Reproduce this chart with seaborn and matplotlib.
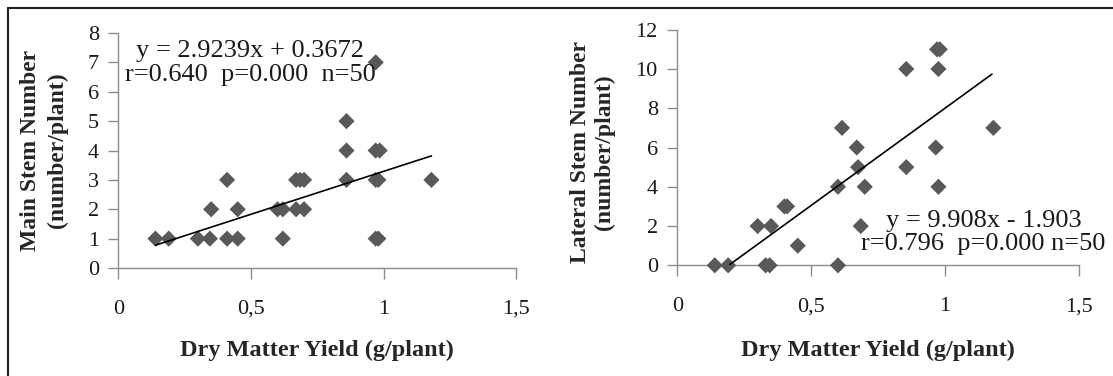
import matplotlib
matplotlib.use("Agg")
import matplotlib.pyplot as plt
from matplotlib.lines import Line2D
import seaborn as sns
import numpy as np
import pandas as pd

# ---------- data ----------
# dry matter yield (g/plant) vs main stem number
main_x = [0.14, 0.19, 0.30, 0.345, 0.41, 0.45, 0.62, 0.97, 0.98,
          0.35, 0.45, 0.60, 0.62, 0.67, 0.70,
          0.41, 0.67, 0.685, 0.70, 0.86, 0.97, 0.98, 1.18,
          0.86, 0.97, 0.985, 0.86, 0.97]
main_y = [1, 1, 1, 1, 1, 1, 1, 1, 1,
          2, 2, 2, 2, 2, 2,
          3, 3, 3, 3, 3, 3, 3, 3,
          4, 4, 4, 5, 7]

# dry matter yield (g/plant) vs lateral stem number
lat_x = [0.14, 0.19, 0.33, 0.345, 0.60,
         0.45,
         0.30, 0.35, 0.685,
         0.40, 0.41,
         0.60, 0.70, 0.975,
         0.675, 0.855,
         0.67, 0.965,
         0.615, 1.18,
         0.855, 0.975,
         0.97, 0.98]
lat_y = [0, 0, 0, 0, 0,
         1,
         2, 2, 2,
         3, 3,
         4, 4, 4,
         5, 5,
         6, 6,
         7, 7,
         10, 10,
         11, 11]

# fitted trend lines: slope, intercept, x range
main_fit = (2.9239, 0.3672)
main_fit_range = [0.14, 1.18]
lat_fit = (9.908, -1.903)
lat_fit_range = [0.196, 1.175]

main_eq = "y = 2.9239x + 0.3672\nr=0.640  p=0.000  n=50"
lat_eq = "y = 9.908x - 1.903\nr=0.796  p=0.000 n=50"

x_ticks = [0, 0.5, 1, 1.5]
x_tick_labels = ["0", "0,5", "1", "1,5"]
main_y_ticks = list(range(0, 9))
lat_y_ticks = list(range(0, 13, 2))

# ---------- style ----------
sns.set_style("ticks")
plt.rcParams["font.family"] = ["Liberation Serif", "DejaVu Serif"]

point_color = "#595959"
spine_color = "#8c8c8c"

fig = plt.figure(figsize=(11.13, 3.76), dpi=100)
ax1 = fig.add_axes([0.1063, 0.2872, 0.3576, 0.6250])
ax2 = fig.add_axes([0.6085, 0.2944, 0.3610, 0.6266])


def draw_panel(ax, xs, ys, fit, fit_range, ylim, yticks, ylabel, eq, eq_pos,
               ylab_x, ylab_y, ylab_spacing, xlab_y):
    df = pd.DataFrame({"x": xs, "y": ys})
    sns.scatterplot(data=df, x="x", y="y", marker="D", s=68, color=point_color,
                    edgecolor="none", linewidth=0, clip_on=False, zorder=3, ax=ax)
    fx = np.array(fit_range)
    fit_df = pd.DataFrame({"x": fx, "y": fit[0] * fx + fit[1]})
    sns.lineplot(data=fit_df, x="x", y="y", color="black", linewidth=1.2,
                 zorder=4, ax=ax)

    ax.set_xlim(0, 1.5)
    ax.set_ylim(*ylim)
    ax.set_xticks(x_ticks)
    ax.set_xticklabels(x_tick_labels)
    ax.set_yticks(yticks)
    sns.despine(ax=ax)
    for side in ["left", "bottom"]:
        ax.spines[side].set_color(spine_color)
        ax.spines[side].set_linewidth(1.0)
    ax.tick_params(axis="x", direction="out", length=8, width=1.0,
                   color=spine_color, pad=15, labelsize=16, labelcolor="#1a1a1a")
    ax.tick_params(axis="y", direction="out", length=7, width=1.0,
                   color=spine_color, pad=7, labelsize=16, labelcolor="#1a1a1a")

    ax.set_xlabel("Dry Matter Yield (g/plant)", fontsize=17.5, fontweight="bold")
    ax.set_ylabel(ylabel, fontsize=17, fontweight="bold", linespacing=ylab_spacing)
    ax.xaxis.set_label_coords(0.5, xlab_y)
    ax.yaxis.set_label_coords(ylab_x, ylab_y)

    ax.text(eq_pos[0], eq_pos[1], eq, transform=ax.transAxes, fontsize=19,
            ha="center", va="center", linespacing=1.1, color="#1a1a1a")


draw_panel(ax1, main_x, main_y, main_fit, main_fit_range, (0, 8), main_y_ticks,
           "Main Stem Number\n(number/plant)", main_eq, (0.332, 0.872),
           -0.126, 0.5, 1.4, -0.305)
draw_panel(ax2, lat_x, lat_y, lat_fit, lat_fit_range, (0, 12), lat_y_ticks,
           "Lateral Stem Number\n(number/plant)", lat_eq, (0.762, 0.139),
           -0.155, 0.48, 1.2, -0.315)

# frame lines (top and left) of the original figure
fig.add_artist(Line2D([8 / 1113, 1], [1 - 8 / 376, 1 - 8 / 376],
                      transform=fig.transFigure, color="#222222", linewidth=1.5))
fig.add_artist(Line2D([8 / 1113, 8 / 1113], [0, 1 - 8 / 376],
                      transform=fig.transFigure, color="#222222", linewidth=1.5))

fig.savefig("out.png", dpi=100)
